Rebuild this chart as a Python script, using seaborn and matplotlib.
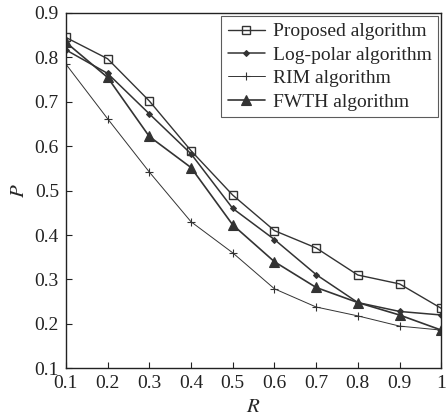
import matplotlib
matplotlib.use('Agg')
import matplotlib.pyplot as plt
import seaborn as sns
import pandas as pd

R = [0.1, 0.2, 0.3, 0.4, 0.5, 0.6, 0.7, 0.8, 0.9, 1.0]
proposed = [0.845, 0.797, 0.702, 0.590, 0.490, 0.410, 0.371, 0.310, 0.290, 0.235]
log_polar = [0.817, 0.764, 0.673, 0.583, 0.460, 0.390, 0.311, 0.248, 0.228, 0.220]
rim = [0.785, 0.662, 0.542, 0.430, 0.360, 0.279, 0.238, 0.218, 0.195, 0.186]
fwth = [0.834, 0.755, 0.622, 0.552, 0.423, 0.340, 0.282, 0.248, 0.220, 0.186]

names = ['Proposed algorithm', 'Log-polar algorithm', 'RIM algorithm', 'FWTH algorithm']

df = pd.DataFrame({
    'R': R * 4,
    'P': proposed + log_polar + rim + fwth,
    'algorithm': [n for n in names for _ in R],
})

sns.set_style('ticks')
plt.rcParams['font.family'] = ['Liberation Serif', 'DejaVu Serif']
plt.rcParams['mathtext.fontset'] = 'stix'

fig = plt.figure(figsize=(4.48, 4.19), dpi=100)
ax = fig.add_axes([0.147, 0.121, 0.838, 0.848])

styles = {
    'Proposed algorithm': dict(marker='s', ms=6, mfc='none', mew=1.0),
    'Log-polar algorithm': dict(marker='D', ms=3, mfc='#333333', mew=0.8),
    'RIM algorithm': dict(marker='+', ms=6, mew=0.8),
    'FWTH algorithm': dict(marker='^', ms=7, mfc='#333333', mew=0.8),
}
widths = {'Proposed algorithm': 1.0, 'Log-polar algorithm': 1.1,
          'RIM algorithm': 0.7, 'FWTH algorithm': 1.2}

for n in names:
    sub = df[df['algorithm'] == n]
    sns.lineplot(data=sub, x='R', y='P', ax=ax, color='#333333', label=n,
                 lw=widths[n], mec='#333333', **styles[n])

ax.set_xlim(0.1, 1.0)
ax.set_ylim(0.1, 0.9)
ax.set_xticks(R)
ax.set_xticklabels(['0.1', '0.2', '0.3', '0.4', '0.5', '0.6', '0.7', '0.8', '0.9', '1'])
ax.set_yticks([0.1, 0.2, 0.3, 0.4, 0.5, 0.6, 0.7, 0.8, 0.9])
ax.tick_params(direction='in', labelsize=14, length=4, color='#222222',
               labelcolor='#222222', pad=5)
ax.set_xlabel('$R$', fontsize=15, labelpad=4)
ax.set_ylabel('$P$', fontsize=15, labelpad=4)
for s in ax.spines.values():
    s.set_color('#222222')
    s.set_linewidth(1.0)

leg = ax.legend(loc='upper right', fontsize=14, frameon=True, fancybox=False,
                edgecolor='#333333', handlelength=1.9, handletextpad=0.4,
                borderpad=0.35, labelspacing=0.3, borderaxespad=0.15)
leg.get_frame().set_linewidth(0.8)

fig.savefig('out.png', dpi=100)
